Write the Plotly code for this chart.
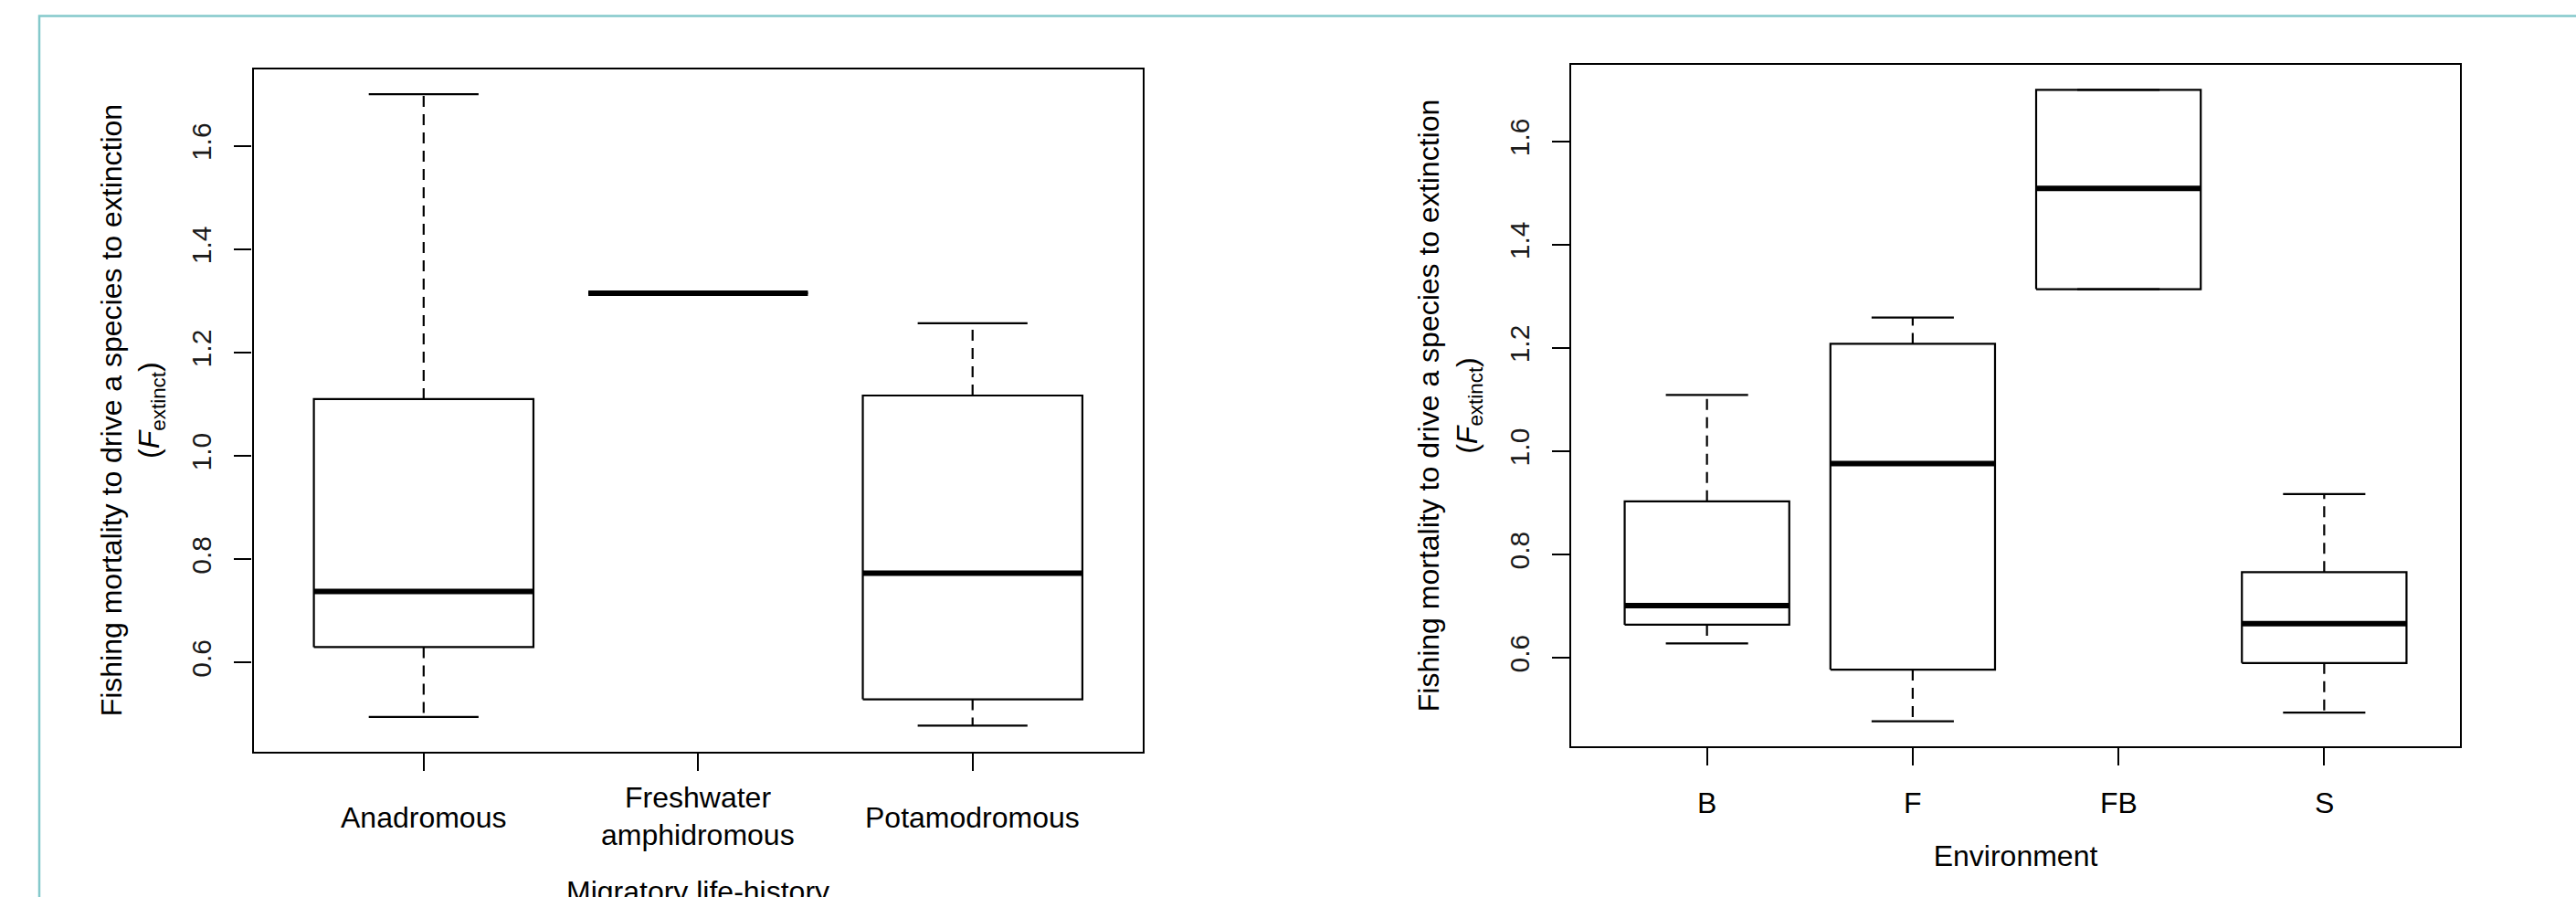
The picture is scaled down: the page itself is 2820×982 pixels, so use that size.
import plotly.graph_objects as go

W, H = 2820, 982

# ---------------- data ----------------
mig_categories = ["Anadromous", "Freshwater\namphidromous", "Potamodromous"]
mig_lower = [0.495, 1.315, 0.478]
mig_q1 = [0.630, 1.315, 0.529]
mig_median = [0.738, 1.315, 0.773]
mig_q3 = [1.110, 1.315, 1.117]
mig_upper = [1.700, 1.315, 1.257]

env_categories = ["B", "F", "FB", "S"]
env_lower = [0.628, 0.477, 1.314, 0.494]
env_q1 = [0.664, 0.577, 1.314, 0.590]
env_median = [0.701, 0.976, 1.509, 0.666]
env_q3 = [0.903, 1.208, 1.700, 0.766]
env_upper = [1.109, 1.259, 1.700, 0.917]

y_tickvals = [0.6, 0.8, 1.0, 1.2, 1.4, 1.6]
y_ticktext = ["0.6", "0.8", "1.0", "1.2", "1.4", "1.6"]

y_title = "Fishing mortality to drive a species to extinction<br>(<i>F</i><sub>extinct</sub>)"
mig_xtitle = "Migratory life-history"
env_xtitle = "Environment"

FONT = "Liberation Sans, Arial, sans-serif"
LW = 2.2


def px_x(p):
    return p / W


def px_y(p):
    return 1 - p / H


def add_boxes(fig, lower, q1, med, q3, upper, xa, ya):
    n = len(med)
    wx, wy, bx, by, mx, my, cx, cy = [], [], [], [], [], [], [], []
    for i in range(n):
        p = i + 1
        wx += [p, p, None, p, p, None]
        wy += [q3[i], upper[i], None, q1[i], lower[i], None]
        bx += [p - 0.4, p + 0.4, p + 0.4, p - 0.4, p - 0.4, None]
        by += [q1[i], q1[i], q3[i], q3[i], q1[i], None]
        mx += [p - 0.4, p + 0.4, None]
        my += [med[i], med[i], None]
        cx += [p - 0.2, p + 0.2, None, p - 0.2, p + 0.2, None]
        cy += [upper[i], upper[i], None, lower[i], lower[i], None]
    common = dict(mode="lines", xaxis=xa, yaxis=ya, hoverinfo="skip", showlegend=False)
    fig.add_trace(go.Scatter(x=wx, y=wy, line=dict(color="black", width=LW, dash="12px,8px"), **common))
    fig.add_trace(go.Scatter(x=cx, y=cy, line=dict(color="black", width=LW), **common))
    fig.add_trace(go.Scatter(x=bx, y=by, line=dict(color="black", width=LW), **common))
    fig.add_trace(go.Scatter(x=mx, y=my, line=dict(color="black", width=6), **common))


def yrange(lower, upper):
    lo, hi = min(lower), max(upper)
    d = (hi - lo) * 0.04
    return [lo - d, hi + d]


fig = go.Figure()
add_boxes(fig, mig_lower, mig_q1, mig_median, mig_q3, mig_upper, "x", "y")
add_boxes(fig, env_lower, env_q1, env_median, env_q3, env_upper, "x2", "y2")

n1, n2 = len(mig_categories), len(env_categories)

xcommon = dict(showgrid=False, zeroline=False, showline=True, mirror=True, linecolor="black",
               linewidth=LW, ticks="outside", ticklen=19, tickwidth=LW, tickcolor="black",
               showticklabels=False, fixedrange=True, automargin=False)
ycommon = dict(showgrid=False, zeroline=False, showline=True, mirror=True, linecolor="black",
               linewidth=LW, ticks="outside", ticklen=19, tickwidth=LW, tickcolor="black",
               tickvals=y_tickvals, ticktext=y_ticktext, tickangle=-90,
               tickfont=dict(family=FONT, size=30, color="#1a1a1a"), ticklabelstandoff=13,
               fixedrange=True, automargin=False,
               title=dict(text=y_title, font=dict(family=FONT, size=32, color="black"), standoff=20))

xa1 = dict(xcommon)
xa1.update(domain=[px_x(277.5), px_x(1251)], range=[0.5 - 0.04 * n1, n1 + 0.5 + 0.04 * n1],
           tickvals=list(range(1, n1 + 1)), anchor="y")
xa2 = dict(xcommon)
xa2.update(domain=[px_x(1720), px_x(2693)], range=[0.5 - 0.04 * n2, n2 + 0.5 + 0.04 * n2],
           tickvals=list(range(1, n2 + 1)), anchor="y2",
           title=dict(text=env_xtitle, font=dict(family=FONT, size=32, color="black"), standoff=88))
ya1 = dict(ycommon)
ya1.update(domain=[px_y(822.7), px_y(75.5)], range=yrange(mig_lower + env_lower, mig_upper + env_upper), anchor="x")
ya2 = dict(ycommon)
ya2.update(domain=[px_y(817.3), px_y(70.7)], range=yrange(mig_lower + env_lower, mig_upper + env_upper), anchor="x2")

annotations = []
# category labels (R style: multi-line labels centred on the label line)
for i, lab in enumerate(mig_categories):
    lines = lab.split("\n")
    if len(lines) == 1:
        ys = [895]
    else:
        ys = [873, 914]
    for line, yy in zip(lines, ys):
        annotations.append(dict(text=line, x=i + 1, xref="x", y=px_y(yy), yref="paper",
                                xanchor="center", yanchor="middle", showarrow=False,
                                font=dict(family=FONT, size=32, color="black")))
for i, lab in enumerate(env_categories):
    annotations.append(dict(text=lab, x=i + 1, xref="x2", y=px_y(879), yref="paper",
                            xanchor="center", yanchor="middle", showarrow=False,
                            font=dict(family=FONT, size=32, color="black")))
# x-axis title of the left panel (runs off the bottom edge, as in the original)
annotations.append(dict(text=mig_xtitle, x=(1 + n1) / 2, xref="x", y=px_y(976), yref="paper",
                        xanchor="center", yanchor="middle", showarrow=False,
                        font=dict(family=FONT, size=32, color="black")))

shapes = [dict(type="path", xref="paper", yref="paper",
               path=f"M {px_x(43)} -0.2 L {px_x(43)} {px_y(17.5)} L 1.2 {px_y(17.5)}",
               line=dict(color="#84c9cb", width=2.5))]

fig.update_layout(
    width=W, height=H, margin=dict(l=0, r=0, t=0, b=0, autoexpand=False),
    paper_bgcolor="white", plot_bgcolor="white",
    xaxis=xa1, yaxis=ya1, xaxis2=xa2, yaxis2=ya2,
    annotations=annotations, shapes=shapes, showlegend=False,
)

fig.write_html("out.html", config={"displayModeBar": False},
               post_script="document.body.style.margin='0';document.body.style.overflow='hidden';")
